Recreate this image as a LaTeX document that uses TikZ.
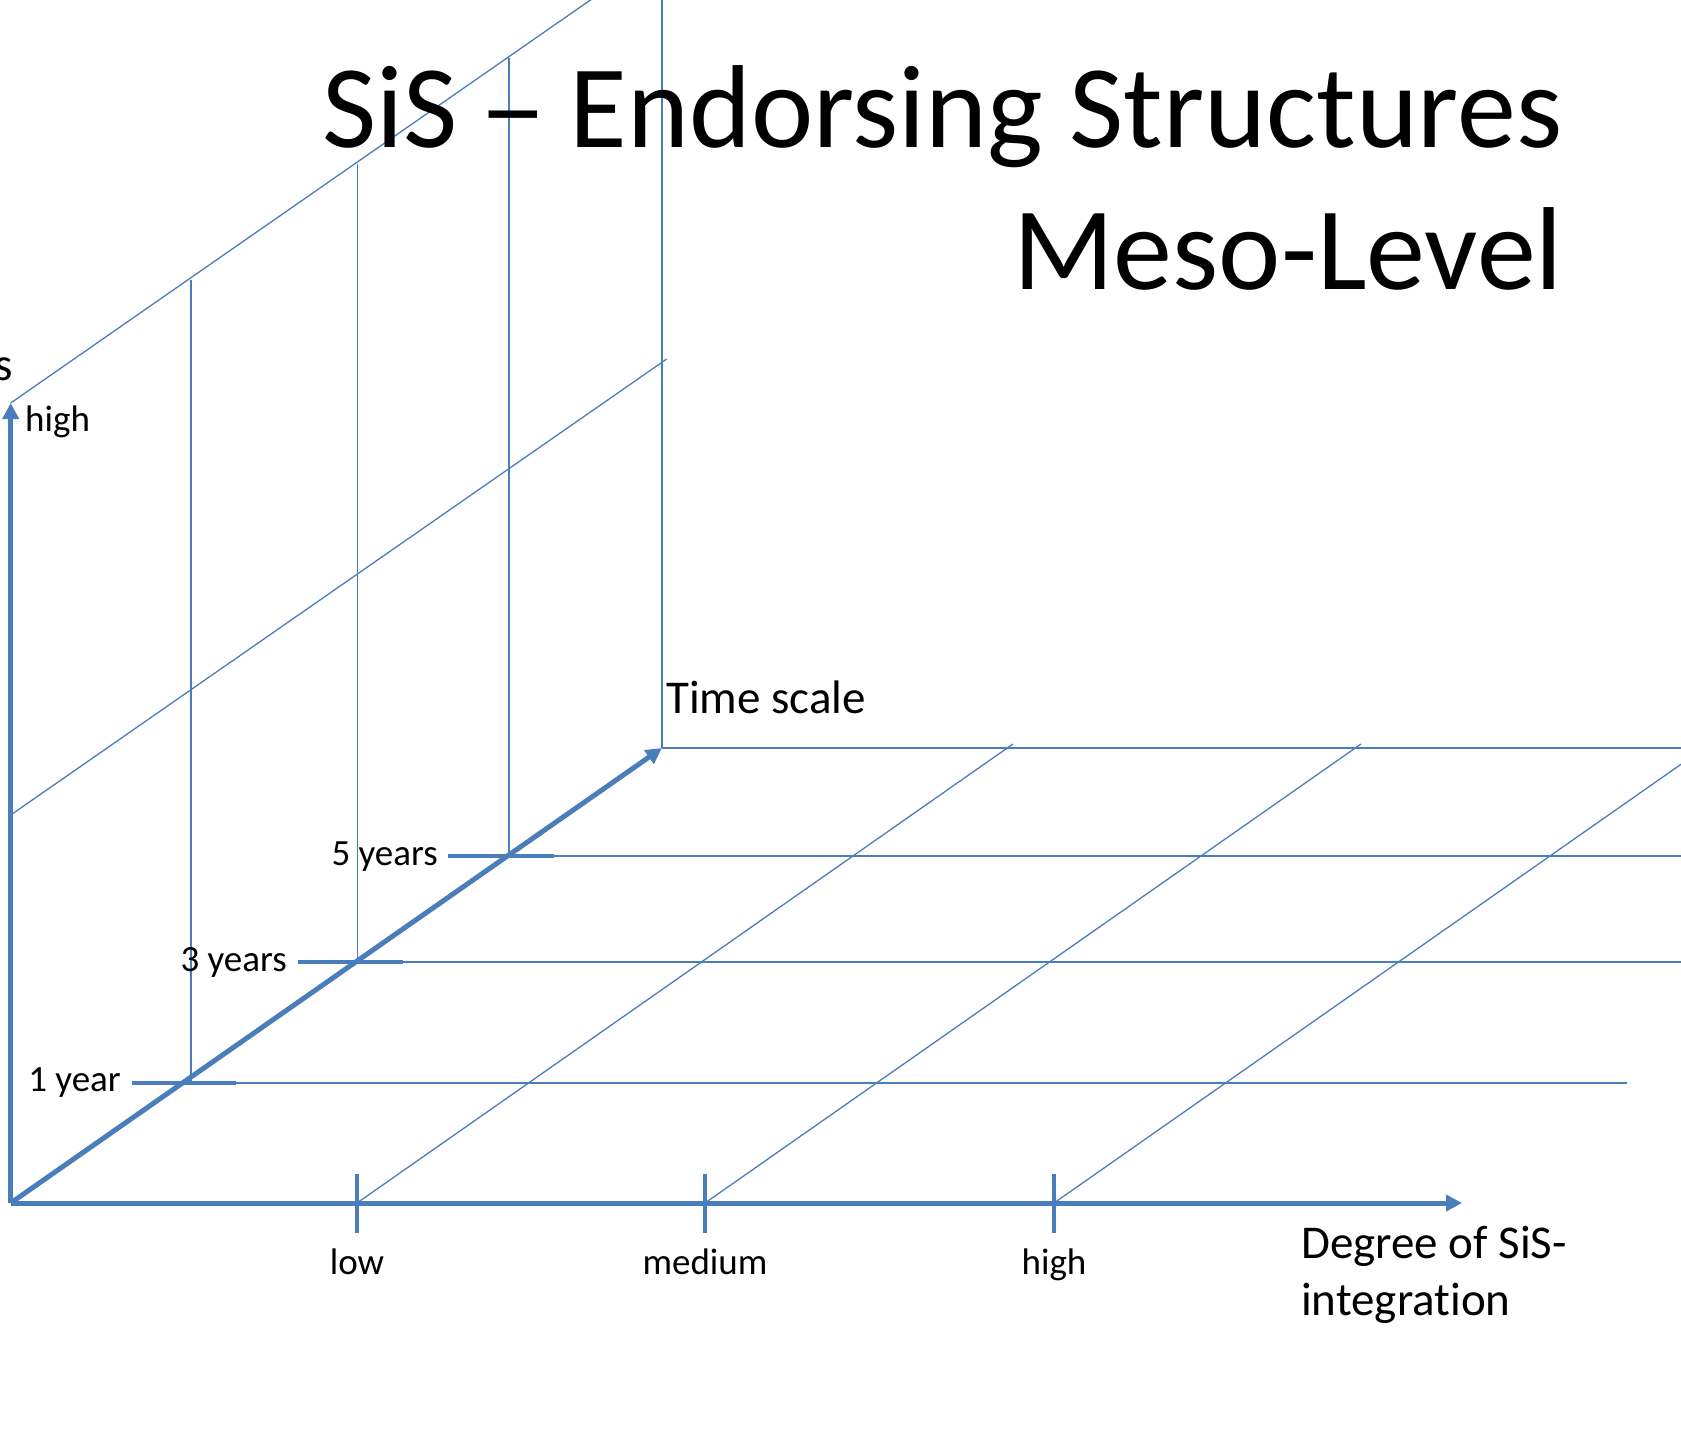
\documentclass[tikz,border=0pt]{standalone}
\usepackage{graphicx}
\usepackage{fontspec}
\setmainfont[Ligatures={TeX,NoCommon}]{Carlito}
\usetikzlibrary{arrows.meta}
\definecolor{sisblue}{HTML}{4A7EBB}

\tikzstyle{axis} = [draw=sisblue, line width=5pt, -{Triangle[length=16pt,width=16pt]}]
\tikzstyle{gridline} = [draw=sisblue, line width=1.3pt]
\tikzstyle{tickmark} = [draw=sisblue, line width=4pt]
\tikzstyle{small} = [inner sep=0pt, font=\fontsize{37}{44}\selectfont]
\tikzstyle{big} = [inner sep=0pt, font=\fontsize{47}{56}\selectfont]
\tikzstyle{title} = [inner sep=0pt, anchor=base east, font=\fontsize{118}{142}\selectfont]

\begin{document}
\begin{tikzpicture}[x=1pt,y=-1pt]
      \clip (0,0) rectangle (1681,1440);

      \coordinate (o) at (10.7,1203);
      \coordinate (up) at (10.7,403);
      \coordinate (right) at (1462,1203);
      \coordinate (back) at (662,748);

      % back walls
      \draw[gridline] (back) -- (662,0);
      \draw[gridline] (back) -- (1681,748);
      \draw[gridline] (up) -- ++(656,-456);
      \draw[gridline] (10.7,815) -- ++(656,-456);

      % floor diagonals
      \draw[gridline] (357,1203) -- ++(656,-459);
      \draw[gridline] (705,1203) -- ++(656,-459);
      \draw[gridline] (1054,1203) -- ++(656,-459);

      % year lines
      \draw[gridline] (236,1083) -- (1627,1083);
      \draw[gridline] (403,962) -- (1681,962);
      \draw[gridline] (554,856) -- (1681,856);
      \draw[gridline] (191,1083) -- (191,279.6);
      \draw[gridline] (357.7,962) -- (357.7,163.6);
      \draw[gridline] (509,856) -- (509,58.3);

      % ticks
      \draw[tickmark] (132,1083) -- (236,1083);
      \draw[tickmark] (298,962) -- (403,962);
      \draw[tickmark] (448,856) -- (554,856);
      \draw[tickmark] (357,1174) -- (357,1233);
      \draw[tickmark] (705,1174) -- (705,1233);
      \draw[tickmark] (1054,1174) -- (1054,1233);

      % axes
      \draw[axis] (o) -- (up);
      \draw[axis] (o) -- (right);
      \draw[axis] (o) -- (back);

      \node[small, anchor=base east] (y1) at (121,1091) {1 year};
      \node[small, anchor=base east] (y3) at (287,971) {3 years};
      \node[small, anchor=base east] (y5) at (438,865) {5 years};
      \node[small, anchor=base] (low) at (357,1274) {low};
      \node[small, anchor=base] (med) at (705,1274) {medium};
      \node[small, anchor=base] (hi) at (1054,1274) {high};
      \node[small, anchor=base west] (uphi) at (25,431) {high};

      \node[big, anchor=base west] (time) at (666,713) {Time scale};
      \node[big, anchor=base west] (deg1) at (1301,1258) {Degree of SiS-};
      \node[big, anchor=base west] (deg2) at (1301,1315) {integration};
      \node[big, anchor=base east] (zlab) at (13.5,380) {s};

      \node[title] (title1) at (1563,147) {SiS \makebox[0.498em]{\scalebox{1.15}[1]{–}} Endorsing Structures};
      \node[title] (title2) at (1563,289.5) {Meso-Level};
\end{tikzpicture}
\end{document}
